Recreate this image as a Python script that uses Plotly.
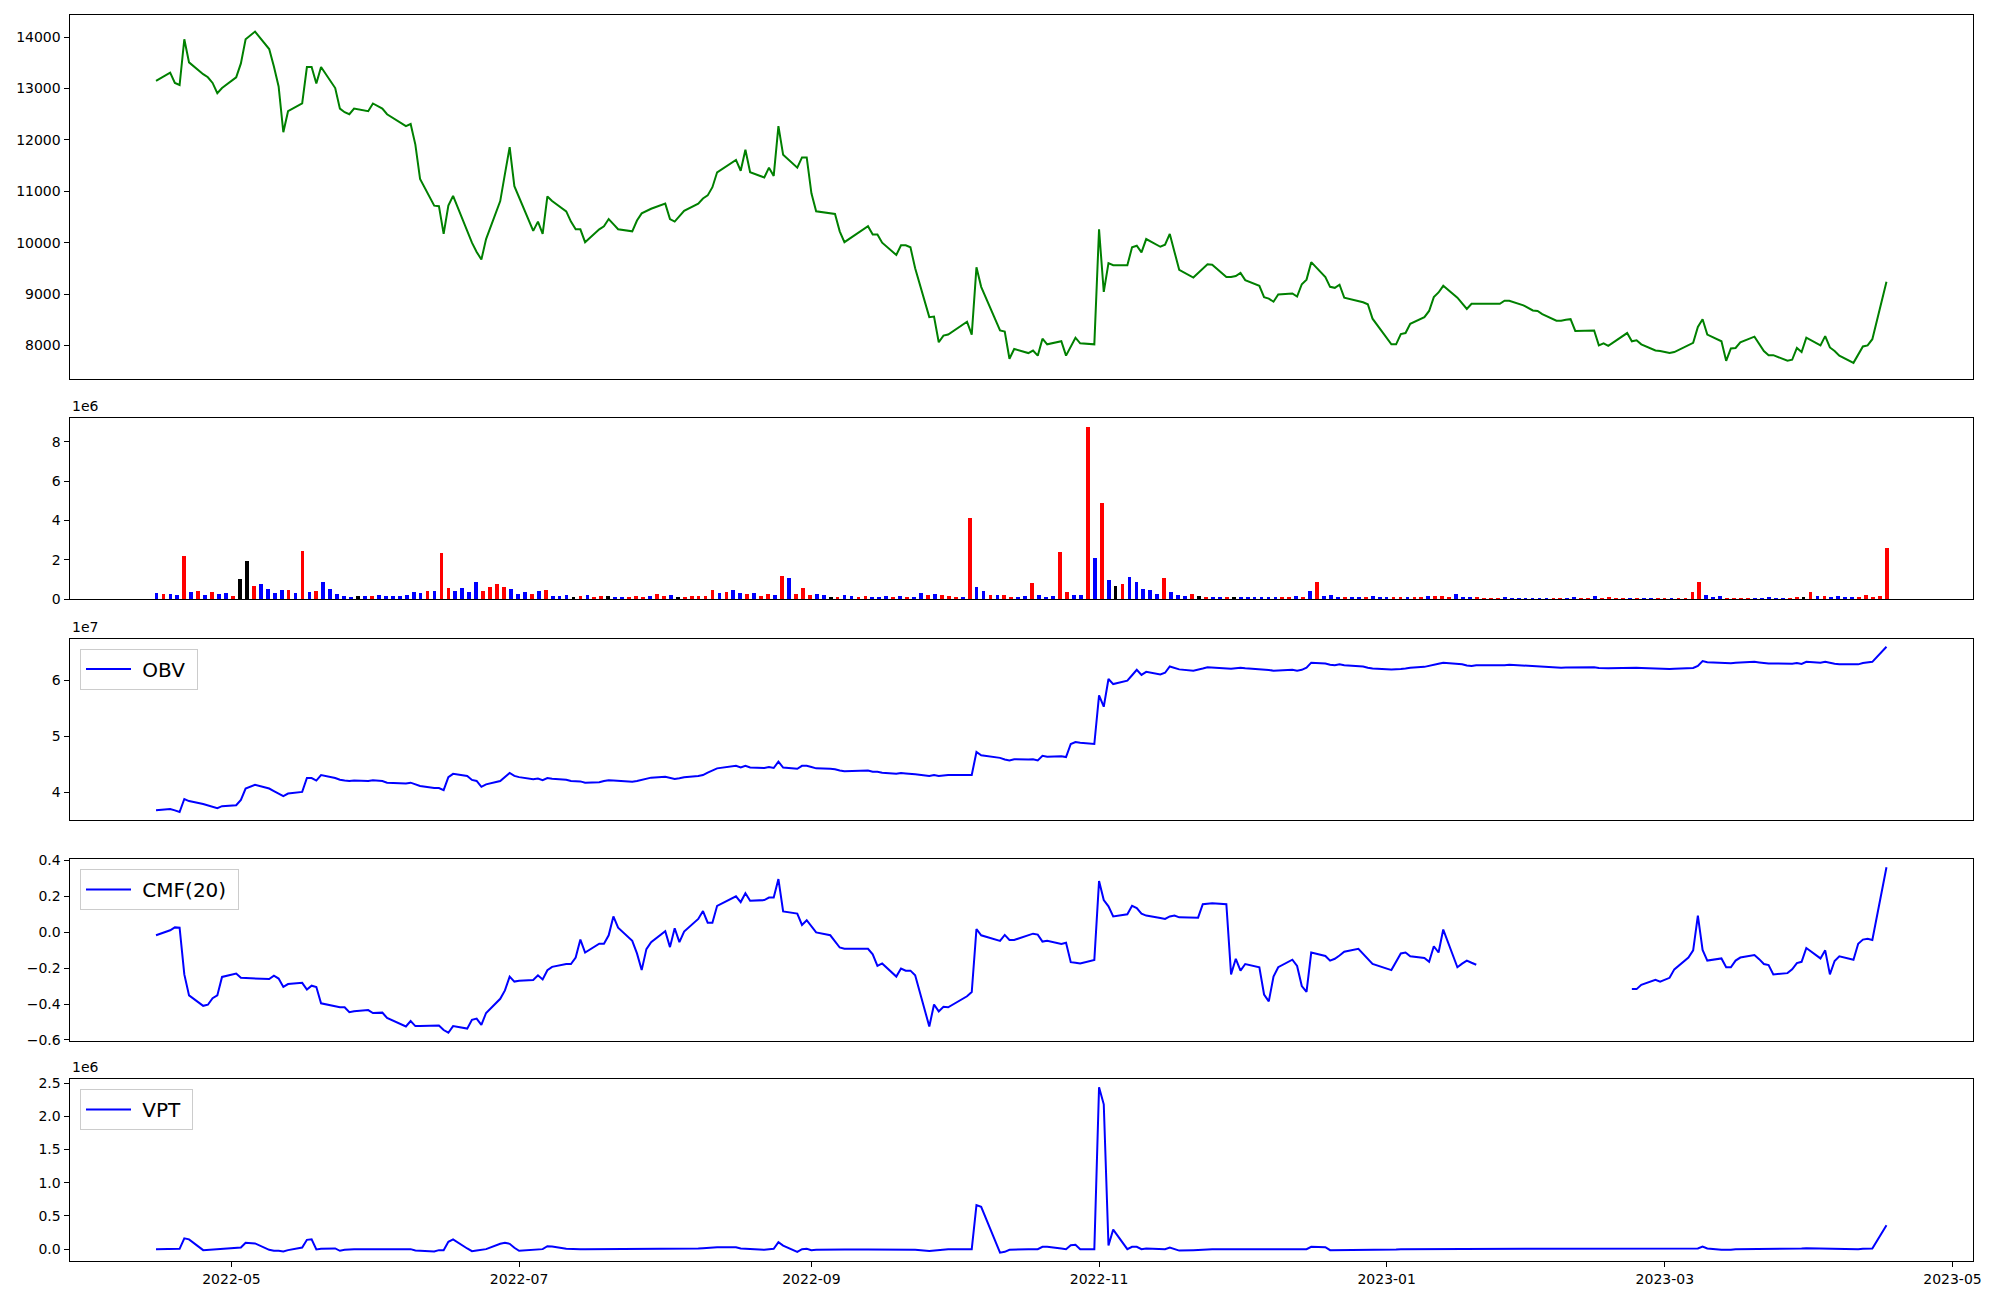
import numpy as np
import pandas as pd
import plotly.graph_objects as go

# ---------------- data ----------------
holidays = ['2022-05-05', '2022-06-01', '2022-06-06', '2022-08-15', '2022-09-09',
            '2022-09-12', '2022-10-03', '2022-10-10', '2022-12-30', '2023-01-23',
            '2023-01-24', '2023-03-01']
dates = pd.bdate_range('2022-04-15', '2023-04-17')
dates = dates[~dates.isin(pd.to_datetime(holidays))]

close = [
    13150, 13310, 13110, 13070, 13960, 13510, 13280, 13220, 13110, 12910, 13010,
    13220, 13490, 13960, 14110, 13770, 13430, 13040, 12150, 12560, 12710, 13420, 13420, 13100, 13420, 13010, 12610, 12540, 12500, 12610, 12560, 12710,
    12610, 12500, 12270, 12310, 11910, 11240, 10720, 10710, 10170, 10720, 10910, 10240, 10000, 9820, 9670, 10070, 10810, 11340, 11860, 11100,
    10890, 10230, 10410, 10170, 10900, 10810, 10610, 10410, 10260, 10260, 10010, 10260, 10320, 10460, 10360, 10260, 10220, 10430, 10570, 10610, 10660,
    10760, 10460, 10410, 10510, 10620, 10760, 10860, 10920, 11080, 11370, 11610, 11400, 11810, 11370, 11270, 11460, 11300, 12270, 11710, 11460, 11660, 11660,
    10960, 10610, 10580, 10560, 10220, 10010, 10320, 10160, 10160, 10000, 9760, 9950, 9950, 9910, 9500, 8550, 8560, 8060, 8190, 8210,
    8460, 8210, 9520, 9140, 8290, 8270, 7740, 7930, 7850, 7900, 7800, 8130, 8020, 8080, 7800, 7980, 8150, 8040, 8020,
    10260, 9040, 9600, 9560, 9560, 9910, 9940, 9810, 10070, 9920, 9960, 10170, 9820, 9470, 9320, 9410, 9500, 9580, 9570, 9330, 9330, 9350,
    9410, 9270, 9160, 8940, 8910, 8850, 8990, 9010, 8950, 9190, 9280, 9620, 9330, 9140, 9120, 9180, 8930, 8860, 8840, 8800, 8520,
    8020, 8020, 8220, 8240, 8420, 8550, 8670, 8940, 9030, 9160, 8930, 8810, 8710, 8810, 8810, 8810, 8870, 8870, 8780, 8730,
    8680, 8670, 8610, 8480, 8480, 8500, 8510, 8280, 8290, 8290, 8000, 8040, 7990, 8190, 8240, 8080, 8100, 8020, 7900, 7890,
    7850, 7870, 8000, 8050, 8360, 8510, 8210, 8080, 7700, 7940, 7950, 8060, 8170, 8020, 7890, 7810, 7810, 7700, 7720, 7950, 7870, 8150,
    8000, 8180, 7960, 7890, 7800, 7660, 7820, 7980, 8000, 8120, 9240,
]

volume_m = [
    .29, .23, .23, .20, 2.19, .33, .39, .20, .33, .23,
    .29, .16, 1.02, 1.95, .66, .74, .49, .29, .43, .43,
    .29, 2.44, .33, .39, .84, .49, .23, .16, .10, .16,
    .16, .16, .20, .16, .16, .16, .20, .33, .29, .39,
    .39, 2.34, .55, .39, .55, .35, .84, .39, .59, .74,
    .59, .49, .23, .33, .23, .39, .43, .16, .16, .20,
    .10, .16, .20, .10, .16, .16, .10, .10, .10, .16,
    .10, .16, .25, .16, .20, .06, .06, .16, .16, .16,
    .45, .31, .35, .45, .31, .25, .31, .16, .25, .20,
    1.15, 1.05, .25, .57, .20, .25, .20, .10, .10, .20,
    .16, .10, .16, .10, .10, .16, .10, .16, .10, .10,
    .31, .20, .25, .20, .16, .06, .10, 4.12, .60, .41,
    .20, .20, .20, .10, .10, .16, .82, .20, .10, .16,
    2.38, .35, .20, .20, 8.75, 2.07, 4.88, .96, .66, .76,
    1.11, .86, .51, .45, .25, 1.05, .35, .20, .16, .25,
    .16, .10, .10, .10, .06, .06, .10, .10, .06, .10,
    .06, .10, .06, .06, .16, .10, .41, .86, .16, .20,
    .06, .10, .10, .06, .10, .16, .10, .10, .10, .06,
    .06, .10, .10, .16, .16, .16, .10, .25, .06, .06,
    .06, .04, .04, .04, .06, .04, .04, .04, .04, .04,
    .04, .04, .04, .02, .06, .04, .04, .16, .04, .06,
    .04, .04, .04, .04, .04, .04, .04, .04, .04, .04,
    .04, .35, .86, .22, .10, .16, .04, .04, .04, .04,
    .04, .04, .10, .04, .04, .04, .10, .10, .35, .16,
    .16, .10, .16, .10, .10, .10, .22, .06, .16, 2.56,
]

# r = up day, b = down day, k = unchanged
bar_dir = list(
    "brbbrbrbrb" "brkkrbbbbr" "brbrbbbbbk" "brbbbbbbbr" "brrbbbbrrr"
    "rbbbrbrbbb" "krbrrkbbrr" "rbrrbkrrrr" "rbrbbrbrrb" "rbrrrbbkrb"
    "brrbbbrbrb" "brbrrrbrbb" "rbrrbbrbbb" "rrbbrbrbkr" "bbbbbrbbbr"
    "krbbrkbbbb" "bbrrbrbrbb" "brbbrbbbrr" "brrbrrrbbb" "rrrrbbbbbb"
    "brrbbrrbrr" "rrbrbbrrbr" "rrrbbbrrrr" "bbbbbrrkrb" "rbbbbrrrrr"
)

obv_1e7 = [
    3.675, 3.698, 3.675, 3.645, 3.878, 3.841, 3.790, 3.760, 3.735, 3.713, 3.750,
    3.766, 3.863, 4.066, 4.134, 4.066, 4.021, 3.976, 3.931, 3.976, 4.006, 4.254, 4.254, 4.209, 4.307, 4.254, 4.224, 4.210, 4.201, 4.209, 4.201, 4.216,
    4.200, 4.171, 4.156, 4.171, 4.140, 4.111, 4.074, 4.074, 4.036, 4.269, 4.329, 4.292, 4.220, 4.201, 4.096, 4.141, 4.201, 4.270, 4.344, 4.292,
    4.270, 4.231, 4.246, 4.216, 4.254, 4.240, 4.224, 4.201, 4.196, 4.194, 4.171, 4.179, 4.200, 4.216, 4.210, 4.201, 4.186, 4.200, 4.216, 4.240, 4.261,
    4.276, 4.260, 4.239, 4.250, 4.269, 4.292, 4.307, 4.352, 4.390, 4.427, 4.472, 4.442, 4.472, 4.442, 4.434, 4.449, 4.434, 4.547, 4.442, 4.419, 4.472, 4.472,
    4.450, 4.427, 4.420, 4.412, 4.390, 4.374, 4.389, 4.367, 4.367, 4.350, 4.329, 4.344, 4.335, 4.330, 4.320, 4.292, 4.310, 4.292, 4.300, 4.307,
    4.310, 4.307, 4.720, 4.660, 4.615, 4.585, 4.570, 4.592, 4.585, 4.592, 4.570, 4.652, 4.637, 4.645, 4.630, 4.863, 4.900, 4.885, 4.863,
    5.734, 5.531, 6.027, 5.937, 5.997, 6.095, 6.192, 6.102, 6.155, 6.110, 6.140, 6.252, 6.220, 6.200, 6.177, 6.190, 6.215, 6.237, 6.230, 6.207, 6.210, 6.220,
    6.230, 6.220, 6.207, 6.200, 6.190, 6.177, 6.180, 6.192, 6.177, 6.192, 6.230, 6.320, 6.305, 6.283, 6.275, 6.290, 6.275, 6.260, 6.250, 6.230, 6.215,
    6.200, 6.200, 6.207, 6.215, 6.230, 6.245, 6.260, 6.280, 6.300, 6.320, 6.305, 6.290, 6.270, 6.260, 6.275, 6.267, 6.275, 6.283, 6.267, 6.260,
    6.255, 6.250, 6.245, 6.235, 6.230, 6.232, 6.235, 6.237, 6.237, 6.237, 6.225, 6.222, 6.222, 6.225, 6.230, 6.230, 6.228, 6.225, 6.210, 6.207,
    6.207, 6.210, 6.222, 6.225, 6.260, 6.350, 6.328, 6.320, 6.305, 6.310, 6.320, 6.325, 6.335, 6.325, 6.310, 6.305, 6.305, 6.298, 6.300, 6.313, 6.298, 6.335,
    6.320, 6.335, 6.313, 6.300, 6.290, 6.283, 6.290, 6.313, 6.320, 6.335, 6.605,
]

cmf20 = [
    -0.017, 0.011, 0.027, 0.025, -0.235, -0.352, -0.410, -0.404, -0.368, -0.352, -0.249,
    -0.230, -0.254, -0.255, -0.258, -0.261, -0.242, -0.258, -0.305, -0.289, -0.282, -0.319, -0.298, -0.305, -0.396, -0.410, -0.418, -0.418, -0.446, -0.440, -0.434, -0.450,
    -0.448, -0.478, -0.525, -0.495, -0.523, -0.522, -0.521, -0.520, -0.545, -0.560, -0.523, -0.537, -0.488, -0.481, -0.516, -0.450, -0.371, -0.324, -0.247, -0.275,
    -0.270, -0.266, -0.240, -0.263, -0.212, -0.193, -0.177, -0.177, -0.141, -0.041, -0.113, -0.064, -0.064, -0.017, 0.088, 0.025, -0.048, -0.118, -0.211, -0.094, -0.055,
    0.006, -0.083, 0.022, -0.055, 0.004, 0.074, 0.118, 0.053, 0.053, 0.147, 0.200, 0.168, 0.217, 0.175, 0.179, 0.193, 0.193, 0.296, 0.116, 0.104, 0.041, 0.067,
    0.030, -0.001, -0.017, -0.052, -0.085, -0.092, -0.092, -0.123, -0.188, -0.174, -0.247, -0.202, -0.214, -0.214, -0.240, -0.525, -0.403, -0.441, -0.415, -0.418,
    -0.357, -0.333, 0.018, -0.017, -0.048, -0.015, -0.043, -0.043, -0.020, -0.008, -0.013, -0.052, -0.048, -0.066, -0.059, -0.167, -0.170, -0.174, -0.155,
    0.285, 0.179, 0.144, 0.088, 0.100, 0.147, 0.135, 0.104, 0.093, 0.079, 0.074, 0.088, 0.093, 0.083, 0.081, 0.081, 0.156, 0.158, 0.161, 0.156, -0.235, -0.148,
    -0.214, -0.177, -0.195, -0.347, -0.385, -0.247, -0.195, -0.153, -0.188, -0.300, -0.333, -0.113, -0.132, -0.158, -0.148, -0.130, -0.109, -0.092, -0.120, -0.148, -0.177,
    -0.211, -0.165, -0.118, -0.113, -0.134, -0.144, -0.165, -0.078, -0.113, 0.015, -0.195, -0.175, -0.158, -0.170, -0.181, None, None, None, None, None,
    None, None, None, None, None, None, None, None, None, None, None, None, None, None, None, -0.317, -0.317, -0.293, -0.265, -0.275,
    -0.254, -0.207, -0.141, -0.101, 0.093, -0.099, -0.158, -0.146, -0.195, -0.195, -0.158, -0.141, -0.127, -0.150, -0.177, -0.183, -0.235, -0.228, -0.207, -0.172, -0.165, -0.088,
    -0.146, -0.101, -0.235, -0.160, -0.134, -0.153, -0.064, -0.041, -0.036, -0.043, 0.362,
]

vpt_1e6 = [
    0.0, 0.0, 0.0, 0.005, 0.162, 0.147, -0.015, -0.010, 0.0, 0.0, 0.005,
    0.015, 0.025, 0.096, 0.086, -0.010, -0.025, -0.025, -0.035, -0.015, 0.025, 0.140, 0.147, -0.005, 0.005, 0.010, -0.025, -0.010, 0.0, 0.0, 0.0, 0.0,
    0.0, 0.0, 0.0, 0.0, -0.020, -0.025, -0.035, -0.015, -0.015, 0.110, 0.147, 0.010, -0.030, -0.020, -0.015, 0.0, 0.080, 0.096, 0.080, 0.020,
    -0.025, -0.015, -0.010, 0.0, 0.045, 0.040, 0.005, 0.0, 0.0, 0.0, 0.0, 0.0, 0.0, 0.005, 0.005, 0.005, 0.005, 0.005, 0.005, 0.005, 0.005,
    0.005, 0.005, 0.005, 0.005, 0.005, 0.010, 0.015, 0.020, 0.025, 0.029, 0.029, 0.010, 0.005, 0.0, -0.010, 0.0, 0.005, 0.105, 0.054, -0.041, 0.0, 0.005,
    -0.015, -0.010, -0.005, -0.005, -0.005, -0.005, -0.005, -0.005, -0.005, -0.005, -0.005, -0.005, -0.005, -0.005, -0.010, -0.029, -0.020, -0.015, 0.0, 0.0,
    0.0, 0.0, 0.664, 0.638, -0.054, -0.040, -0.010, -0.005, 0.0, 0.0, 0.0, 0.035, 0.035, 0.010, 0.0, 0.060, 0.066, 0.0, 0.0,
    2.436, 2.180, 0.054, 0.295, 0.0, 0.035, 0.035, 0.0, 0.010, 0.0, 0.0, 0.025, 0.0, -0.022, -0.015, -0.010, 0.0, 0.0, 0.0, 0.0, 0.0, 0.0,
    0.0, 0.0, 0.0, 0.0, 0.0, 0.0, 0.0, 0.0, 0.0, 0.0, 0.0, 0.035, 0.030, -0.015, -0.015, -0.015, -0.015, -0.015, -0.015, -0.015, -0.015,
    -0.015, -0.005, 0.0, 0.0, 0.0, 0.0, 0.0, 0.0, 0.0, 0.0, 0.0, 0.0, 0.0, 0.0, 0.0, 0.0, 0.0, 0.0, 0.0, 0.0,
    0.0, 0.0, 0.0, 0.0, 0.0, 0.0, 0.0, 0.0, 0.0, 0.0, 0.0, 0.0, 0.0, 0.0, 0.0, 0.0, 0.0, 0.0, 0.0, 0.0,
    0.0, 0.0, 0.0, 0.005, 0.010, 0.040, 0.010, -0.010, -0.015, -0.010, 0.0, 0.0, 0.0, 0.0, 0.0, 0.0, 0.0, 0.0, 0.0, 0.005, 0.010, 0.015,
    0.010, 0.005, 0.0, 0.0, 0.0, 0.0, 0.0, 0.005, 0.005, 0.010, 0.360,
]

series_names = ['OBV', 'CMF(20)', 'VPT']
price_ticks = [8000, 9000, 10000, 11000, 12000, 13000, 14000]
vol_ticks = [0, 2, 4, 6, 8]
obv_ticks = [4, 5, 6]
cmf_ticks = [-0.6, -0.4, -0.2, 0.0, 0.2, 0.4]
vpt_ticks = [0.0, 0.5, 1.0, 1.5, 2.0, 2.5]

n = len(dates)
for name, arr in [('close', close), ('volume', volume_m), ('dir', bar_dir),
                  ('obv', obv_1e7), ('cmf', cmf20), ('vpt', vpt_1e6)]:
    assert len(arr) == n, (name, len(arr), n)

volume = [v * 1e6 for v in volume_m]
obv = [v * 1e7 for v in obv_1e7]
vpt = [v * 1e6 for v in vpt_1e6]
dir_color = {'r': '#ff0000', 'b': '#0000ff', 'k': '#000000'}
bar_colors = [dir_color[c] for c in bar_dir]

# volume bars are spaced evenly across the date span
bar_x = pd.to_datetime(np.linspace(dates[0].value, dates[-1].value, n))

# ---------------- figure ----------------
PAGE_W, PAGE_H = 2000, 1300
OFF = 8                      # default page margin around the plot div
W, H = PAGE_W - 2 * OFF, PAGE_H - 2 * OFF
FONT = 'DejaVu Sans'
NB = '\u00a0'                # padding inside legend entries


def px_x(px):
    return (px - OFF) / W


def px_y(py):
    return 1 - (py - OFF) / H


def pad_range(vals, frac=0.05):
    v = [x for x in vals if x is not None]
    lo, hi = min(v), max(v)
    p = (hi - lo) * frac
    return [lo - p, hi + p]


span = dates[-1] - dates[0]
x_range = [dates[0] - span * 0.05, dates[-1] + span * 0.05]

x_left, x_right = px_x(69.5), px_x(1973)
panels_px = [(15, 379.4), (418.3, 599.2), (638.5, 820.3), (859, 1041), (1079, 1261)]
domains = [[px_y(b), px_y(t)] for t, b in panels_px]

fig = go.Figure()
fig.add_trace(go.Scatter(x=dates, y=close, mode='lines', line=dict(color='green', width=2),
                         showlegend=False, xaxis='x', yaxis='y'))
fig.add_trace(go.Bar(x=bar_x, y=volume, marker=dict(color=bar_colors, line=dict(width=0)),
                     width=0.8 * 86400000, showlegend=False, xaxis='x2', yaxis='y2'))
fig.add_trace(go.Scatter(x=dates, y=obv, mode='lines', name=NB + series_names[0] + NB,
                         line=dict(color='blue', width=2), xaxis='x3', yaxis='y3', legend='legend'))
fig.add_trace(go.Scatter(x=dates, y=cmf20, mode='lines', name=NB + series_names[1] + NB,
                         line=dict(color='blue', width=2), connectgaps=False,
                         xaxis='x4', yaxis='y4', legend='legend2'))
fig.add_trace(go.Scatter(x=dates, y=vpt, mode='lines', name=NB + series_names[2] + NB,
                         line=dict(color='blue', width=2), xaxis='x5', yaxis='y5', legend='legend3'))

axis_common = dict(showline=True, linecolor='black', linewidth=1, mirror=True, showgrid=False,
                   zeroline=False, automargin=False,
                   tickfont=dict(family=FONT, size=14, color='black'))

y_specs = [
    (pad_range(close), price_ticks, [str(t) for t in price_ticks]),
    ([0, max(volume) * 1.05], [t * 1e6 for t in vol_ticks], [str(t) for t in vol_ticks]),
    (pad_range(obv), [t * 1e7 for t in obv_ticks], [str(t) for t in obv_ticks]),
    (pad_range(cmf20), cmf_ticks, [f'{t:.1f}'.replace('-', '\u2212') for t in cmf_ticks]),
    (pad_range(vpt), [t * 1e6 for t in vpt_ticks], [f'{t:.1f}' for t in vpt_ticks]),
]

layout = dict(width=W, height=H, margin=dict(l=0, r=0, t=0, b=0, pad=0, autoexpand=False),
              autosize=False, template='none',
              paper_bgcolor='white', plot_bgcolor='white', bargap=0,
              font=dict(family=FONT, size=14, color='black'))

for i in range(5):
    sx = '' if i == 0 else str(i + 1)
    last = (i == 4)
    layout['xaxis' + sx] = dict(
        axis_common, domain=[x_left, x_right], anchor='y' + sx, type='date', range=x_range,
        showticklabels=last, ticks='outside' if last else '', ticklen=5, tickwidth=1, tickcolor='black',
        tick0='2022-01-01', dtick='M2', tickformat='%Y-%m',
        **({} if i == 0 else {'matches': 'x'}))
    rng, tv, tt = y_specs[i]
    layout['yaxis' + sx] = dict(
        axis_common, domain=domains[i], anchor='x' + sx, range=rng, tickmode='array',
        tickvals=tv, ticktext=tt, ticks='outside', ticklen=5, tickwidth=1, tickcolor='black')

legend_style = dict(xanchor='left', yanchor='top', bgcolor='rgba(255,255,255,0.8)',
                    bordercolor='#cccccc', borderwidth=1,
                    font=dict(family=FONT, size=20, color='black'), itemwidth=45)
layout['legend'] = dict(legend_style, x=px_x(80), y=px_y(648.5))
layout['legend2'] = dict(legend_style, x=px_x(80), y=px_y(869))
layout['legend3'] = dict(legend_style, x=px_x(80), y=px_y(1089))

annotations = []
for label, (top, _) in zip(['1e6', '1e7', '1e6'], [panels_px[1], panels_px[2], panels_px[4]]):
    annotations.append(dict(text=label, x=x_left, y=px_y(top), xref='paper', yref='paper',
                            xanchor='left', yanchor='bottom', showarrow=False, yshift=2,
                            font=dict(family=FONT, size=14, color='black')))
layout['annotations'] = annotations

fig.update_layout(**layout)
fig.write_html('out.html')
